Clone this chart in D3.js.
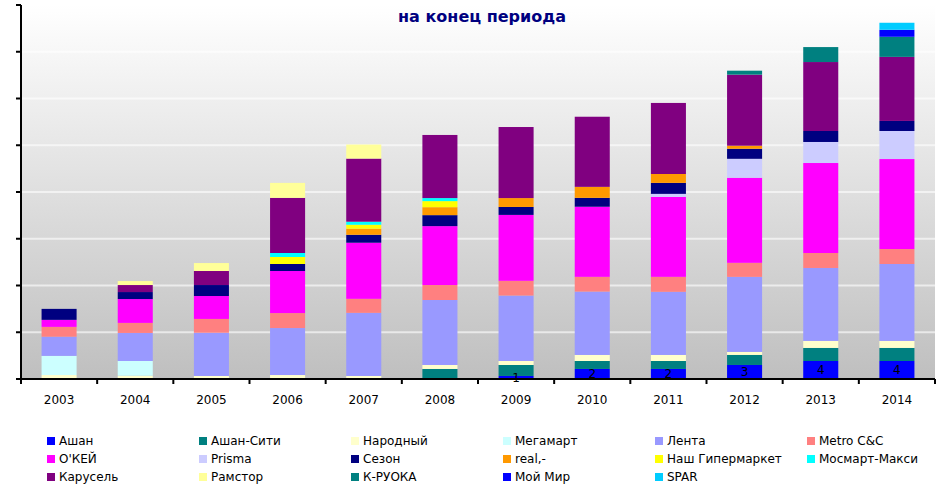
<!DOCTYPE html>
<html>
<head>
<meta charset="utf-8">
<script src="https://cdn.jsdelivr.net/npm/d3@7"></script>
<style>
  body { margin: 0; background: #fff; }
  text { font-family: "DejaVu Sans", Verdana, sans-serif; }
</style>
</head>
<body>
<svg></svg>
<script>
const width = 947;
const height = 484;

// data (units: grid step = 10)
const years = ['2003', '2004', '2005', '2006', '2007', '2008', '2009', '2010', '2011', '2012', '2013', '2014'];

const auchan     = [0, 0, 0, 0, 0, 0, 0.65, 2.15, 2.15, 3.0, 3.85, 3.85];
const auchanCity = [0, 0, 0, 0, 0, 2.15, 2.35, 1.7, 1.7, 2.15, 2.8, 2.8];
const narodny    = [0.85, 0.7, 0.65, 0.85, 0.65, 0.85, 0.85, 1.3, 1.3, 0.65, 1.5, 1.5];
const megamart   = [4.1, 3.15, 0, 0, 0, 0, 0, 0, 0, 0, 0, 0];
const lenta      = [4.1, 6.0, 9.25, 10.05, 13.5, 13.9, 14.0, 13.55, 13.5, 16.05, 15.6, 16.45];
const metro      = [2.1, 2.15, 2.95, 3.2, 3.0, 3.2, 3.15, 3.15, 3.2, 3.0, 3.2, 3.2];
const okey       = [1.5, 5.1, 4.9, 9.0, 12.0, 12.6, 14.1, 15.0, 17.1, 18.2, 19.25, 19.25];
const prisma     = [0, 0, 0, 0, 0, 0, 0, 0, 0.65, 4.05, 4.5, 6.0];
const sezon      = [2.35, 1.5, 2.35, 1.5, 1.7, 2.35, 1.7, 1.9, 2.35, 2.15, 2.35, 2.15];
const real       = [0, 0, 0, 0, 1.3, 1.7, 1.9, 2.35, 1.9, 0.65, 0, 0];
const nash       = [0, 0, 0, 1.5, 0.85, 1.3, 0, 0, 0, 0, 0, 0];
const mosmart    = [0, 0, 0, 0.85, 0.65, 0.65, 0, 0, 0, 0, 0, 0];
const karusel    = [0, 1.5, 3.0, 11.8, 13.5, 13.5, 15.2, 15.0, 15.2, 15.2, 14.75, 13.7];
const ramstor    = [0, 0.85, 1.7, 3.2, 3.0, 0, 0, 0, 0, 0, 0, 0];
const kruoka     = [0, 0, 0, 0, 0, 0, 0, 0, 0, 0.85, 3.2, 4.3];
const moyMir     = [0, 0, 0, 0, 0, 0, 0, 0, 0, 0, 0, 1.5];
const spar       = [0, 0, 0, 0, 0, 0, 0, 0, 0, 0, 0, 1.5];

const auchanLabels = [null, null, null, null, null, null, 1, 2, 2, 3, 4, 4];

const seriesNames = ['Ашан', 'Ашан-Сити', 'Народный', 'Мегамарт', 'Лента', 'Metro C&C',
  "О'КЕЙ", 'Prisma', 'Сезон', 'real,-', 'Наш Гипермаркет', 'Мосмарт-Макси',
  'Карусель', 'Рамстор', 'К-РУОКА', 'Мой Мир', 'SPAR'];
const seriesValues = [auchan, auchanCity, narodny, megamart, lenta, metro,
  okey, prisma, sezon, real, nash, mosmart,
  karusel, ramstor, kruoka, moyMir, spar];
const seriesColors = ['#0000ff', '#008080', '#ffffcc', '#ccffff', '#9999ff', '#ff8080',
  '#ff00ff', '#ccccff', '#000080', '#ff9900', '#ffff00', '#00ffff',
  '#800080', '#ffff99', '#008080', '#0000ff', '#00ccff'];

const title = 'на конец периода';

const rows = years.map((yr, i) => {
  const r = { year: yr };
  seriesNames.forEach((n, j) => r[n] = seriesValues[j][i]);
  return r;
});

const plotLeft = 21, plotRight = 935, plotTop = 5, plotBottom = 379;

const svg = d3.select('svg')
  .attr('width', width)
  .attr('height', height);

const x = d3.scaleBand()
  .domain(years)
  .range([plotLeft, plotRight])
  .paddingInner(0.54)
  .paddingOuter(0.27);

const y = d3.scaleLinear()
  .domain([0, 80])
  .range([plotBottom, plotTop]);

const color = d3.scaleOrdinal().domain(seriesNames).range(seriesColors);

// plot background
const grad = svg.append('defs').append('linearGradient')
  .attr('id', 'bg')
  .attr('x1', 0).attr('y1', 0).attr('x2', 0).attr('y2', 1);
grad.append('stop').attr('offset', '0%').attr('stop-color', '#ffffff');
grad.append('stop').attr('offset', '100%').attr('stop-color', '#bfbfbf');

svg.append('rect')
  .attr('x', plotLeft).attr('y', plotTop)
  .attr('width', plotRight - plotLeft).attr('height', plotBottom - plotTop)
  .attr('fill', 'url(#bg)');

// grid
svg.append('g')
  .selectAll('line')
  .data(y.ticks(8).filter(d => d > 0))
  .enter()
  .append('line')
  .attr('x1', plotLeft).attr('x2', plotRight)
  .attr('y1', d => y(d)).attr('y2', d => y(d))
  .attr('stroke', '#ffffff')
  .attr('stroke-opacity', 0.6)
  .attr('stroke-width', 2);

// bars
const stacked = d3.stack().keys(seriesNames)(rows);

svg.append('g')
  .selectAll('g')
  .data(stacked)
  .enter()
  .append('g')
  .attr('fill', d => color(d.key))
  .selectAll('rect')
  .data(d => d.filter(s => s[1] - s[0] > 0))
  .enter()
  .append('rect')
  .attr('x', d => x(d.data.year))
  .attr('width', x.bandwidth())
  .attr('y', d => y(d[1]))
  .attr('height', d => y(d[0]) - y(d[1]));

// Ашан value labels
svg.append('g')
  .selectAll('text')
  .data(stacked[0].map((s, i) => ({ s, label: auchanLabels[i] })).filter(d => d.label != null))
  .enter()
  .append('text')
  .attr('x', d => x(d.s.data.year) + x.bandwidth() / 2)
  .attr('y', d => (y(d.s[0]) + y(d.s[1])) / 2)
  .attr('dy', '0.36em')
  .attr('text-anchor', 'middle')
  .attr('font-size', 12)
  .attr('fill', '#000')
  .text(d => d.label);

// axes
const yAxis = svg.append('g');
yAxis.append('line')
  .attr('x1', plotLeft).attr('x2', plotLeft)
  .attr('y1', plotTop).attr('y2', plotBottom)
  .attr('stroke', '#000').attr('stroke-width', 2);
yAxis.selectAll('.tk')
  .data(y.ticks(8))
  .enter()
  .append('line')
  .attr('x1', plotLeft - 5).attr('x2', plotLeft)
  .attr('y1', d => y(d)).attr('y2', d => y(d))
  .attr('stroke', '#000').attr('stroke-width', 2);

const xAxis = svg.append('g');
xAxis.append('line')
  .attr('x1', plotLeft - 1).attr('x2', plotRight)
  .attr('y1', plotBottom).attr('y2', plotBottom)
  .attr('stroke', '#000').attr('stroke-width', 2);
xAxis.selectAll('.tk')
  .data(d3.range(years.length + 1))
  .enter()
  .append('line')
  .attr('x1', i => plotLeft + i * x.step()).attr('x2', i => plotLeft + i * x.step())
  .attr('y1', plotBottom).attr('y2', plotBottom + 5)
  .attr('stroke', '#000').attr('stroke-width', 2);
xAxis.selectAll('text')
  .data(years)
  .enter()
  .append('text')
  .attr('x', d => x(d) + x.bandwidth() / 2)
  .attr('y', 400)
  .attr('dy', '0.36em')
  .attr('text-anchor', 'middle')
  .attr('font-size', 12)
  .text(d => d);

// title
svg.append('text')
  .attr('x', 482)
  .attr('y', 16)
  .attr('dy', '0.36em')
  .attr('text-anchor', 'middle')
  .attr('font-size', 16)
  .attr('font-weight', 'bold')
  .attr('fill', '#000080')
  .text(title);

// legend
const legend = svg.append('g')
  .selectAll('g')
  .data(seriesNames)
  .enter()
  .append('g')
  .attr('transform', (d, i) => `translate(${47 + (i % 6) * 152},${441 + Math.floor(i / 6) * 18})`);

legend.append('rect')
  .attr('x', 0).attr('y', -4)
  .attr('width', 8).attr('height', 8)
  .attr('fill', d => color(d));

legend.append('text')
  .attr('x', 12)
  .attr('dy', '0.36em')
  .attr('font-size', 12)
  .text(d => d);
</script>
</body>
</html>
